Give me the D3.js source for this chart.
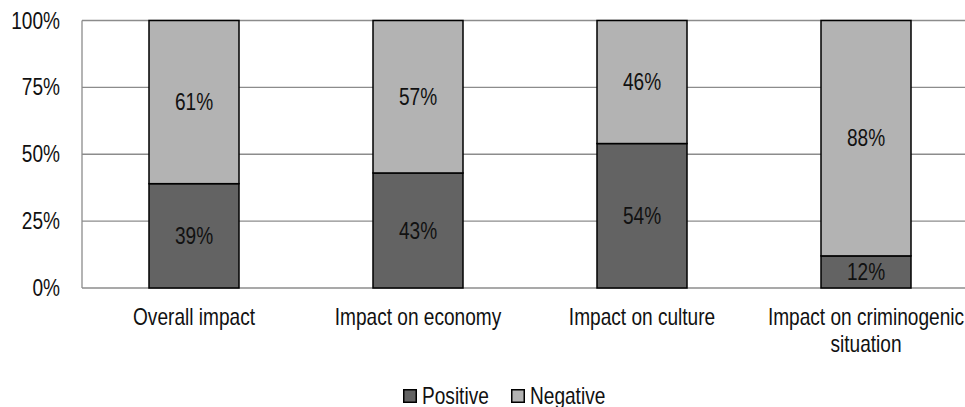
<!DOCTYPE html>
<html><head><meta charset="utf-8">
<script src="https://cdn.jsdelivr.net/npm/d3@7"></script>
<style>body{margin:0;background:#fff}svg{display:block}text{font-family:"Liberation Sans Narrow","Arial Narrow","Liberation Sans",Arial,sans-serif;fill:#111}</style>
</head><body><svg id="c" width="965" height="407"></svg>
<script>
const categories = ["Overall impact", "Impact on economy", "Impact on culture", "Impact on criminogenic\nsituation"];
const positive = [39, 43, 54, 12];
const negative = [61, 57, 46, 88];
const seriesNames = ["Positive", "Negative"];
const yTicks = [0, 25, 50, 75, 100];

const svg = d3.select("#c");
const fs = 23;
const sx = 0.83;
function label(sel, px, py, anchor) {
  return sel.append("text").attr("transform", `translate(${px},${py}) scale(${sx},1)`)
    .attr("text-anchor", anchor).attr("font-size", fs).attr("dy", "0.35em");
}
const x = d3.scaleBand().domain(categories).range([82, 978]).padding(0);
const y = d3.scaleLinear().domain([0, 100]).range([288, 20.5]);
const barW = x.bandwidth() * 90 / 224;
const colors = {Positive: "#636363", Negative: "#b3b3b3"};

// gridlines
svg.append("g").selectAll("line").data(yTicks).join("line")
  .attr("x1", 82).attr("x2", 978).attr("y1", d => y(d)).attr("y2", d => y(d))
  .attr("stroke", "#8c8c8c").attr("stroke-width", 1.3);
// y axis line
svg.append("line").attr("x1", 82).attr("x2", 82).attr("y1", y(0)).attr("y2", y(100))
  .attr("stroke", "#8c8c8c").attr("stroke-width", 1.3);
// y tick labels
yTicks.forEach(t => label(svg, 60, y(t), "end").text(t + "%"));

const stackData = categories.map((c, i) => ({cat: c, Positive: positive[i], Negative: negative[i]}));
const stack = d3.stack().keys(seriesNames)(stackData);

const g = svg.append("g");
stack.forEach(s => {
  g.selectAll(null).data(s).join("rect")
    .attr("x", d => x(d.data.cat) + (x.bandwidth() - barW) / 2)
    .attr("width", barW)
    .attr("y", d => y(d[1]))
    .attr("height", d => y(d[0]) - y(d[1]))
    .attr("fill", colors[s.key]).attr("stroke", "#000").attr("stroke-width", 1.5);
});
stack.forEach(s => {
  s.forEach(d => label(g, x(d.data.cat) + x.bandwidth() / 2, (y(d[0]) + y(d[1])) / 2, "middle")
    .text((d[1] - d[0]) + "%"));
});

// category labels
categories.forEach(c => {
  c.split("\n").forEach((l, i) => label(svg, x(c) + x.bandwidth() / 2, 317 + i * 27, "middle").text(l));
});

// legend
const legX = [403, 511];
seriesNames.forEach((n, i) => {
  svg.append("rect").attr("x", legX[i] + 0.75).attr("y", 389.75).attr("width", 12.5).attr("height", 12.5)
    .attr("fill", colors[n]).attr("stroke", "#000").attr("stroke-width", 1.5);
  label(svg, legX[i] + 19, 396, "start").text(n);
});
</script></body></html>
